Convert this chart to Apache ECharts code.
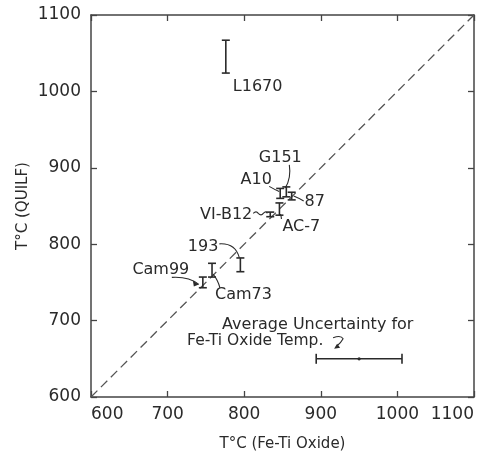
<!DOCTYPE html>
<html>
<head>
<meta charset="utf-8">
<script src="https://cdn.jsdelivr.net/npm/echarts@6/dist/echarts.min.js"></script>
<style>html,body{margin:0;padding:0;background:#fff;}#c{width:491px;height:452px;}</style>
</head>
<body>
<div id="c"></div>
<script>
// ---- data ----
var sampleNames = ['L1670', 'G151', 'A10', '87', 'VI-B12', 'AC-7', '193', 'Cam99', 'Cam73'];
var feTiTemp    = [776, 855, 847, 862, 834, 846, 795, 746, 758];
var quilfLow    = [1024, 862, 860, 858, 836, 838, 764, 743, 757];
var quilfHigh   = [1067, 875, 873, 868, 842, 854, 782, 757, 775];
var avgUncertCenter = [950, 650];
var avgUncertHalfWidth = 56;
var oneToOne = [[600, 600], [1100, 1100]];
var tickValues = [600, 700, 800, 900, 1000, 1100];

// ---- label layout (pixel offsets from each point) ----
var labelLayout = {
  'L1670': {dx: 7,   dy: 30,  align: 'left'},
  'G151':  {dx: -6,  dy: -34, align: 'center', lead: [3, -27, 5, -14, -1, -4]},
  'A10':   {dx: -24, dy: -14, align: 'center', lead: [-11, -7, -6, -4, -1, -2]},
  '87':    {dx: 23,  dy: 6,   align: 'center', lead: [12, 5, 7, 2, 2, 0]},
  'VI-B12':{dx: -18, dy: 0,   align: 'right',  wave: true},
  'AC-7':  {dx: 3,   dy: 18,  align: 'left',   lead: [2, 10, 2, 8, 1, 5]},
  '193':   {dx: -22, dy: -18, align: 'right',  lead: [-21, -21, -5, -22, -1, -7]},
  'Cam99': {dx: -42, dy: -13, align: 'center', lead: [-31, -5, -14, -6, -4, 2], arrow: true},
  'Cam73': {dx: 3,   dy: 25,  align: 'left',   lead: [8, 18, 6, 10, 1, 4]}
};

var FONT = 'DejaVu Sans';
var INK = '#2a2a2a';

var barData = sampleNames.map(function (n, i) {
  return [feTiTemp[i], quilfLow[i], quilfHigh[i], i];
});
var labelData = sampleNames.map(function (n, i) {
  return [feTiTemp[i], (quilfLow[i] + quilfHigh[i]) / 2, i];
});

function renderBar(params, api) {
  var x = api.value(0);
  var lo = api.coord([x, api.value(1)]);
  var hi = api.coord([x, api.value(2)]);
  var w = 4;
  var st = {stroke: INK, lineWidth: 1.6};
  return {type: 'group', children: [
    {type: 'line', shape: {x1: lo[0], y1: lo[1], x2: hi[0], y2: hi[1]}, style: st},
    {type: 'line', shape: {x1: lo[0] - w, y1: lo[1], x2: lo[0] + w, y2: lo[1]}, style: st},
    {type: 'line', shape: {x1: hi[0] - w, y1: hi[1], x2: hi[0] + w, y2: hi[1]}, style: st}
  ]};
}

function renderLabel(params, api) {
  var i = api.value(2);
  var name = sampleNames[i];
  var L = labelLayout[name];
  var p = api.coord([api.value(0), api.value(1)]);
  var kids = [{
    type: 'text', x: p[0] + L.dx, y: p[1] + L.dy,
    style: {text: name, fill: INK, font: '16px "' + FONT + '"', align: L.align, verticalAlign: 'middle'}
  }];
  var st = {stroke: INK, lineWidth: 1.1, fill: null};
  if (L.lead) {
    var a = L.lead;
    kids.push({type: 'bezierCurve', shape: {
      x1: p[0] + a[0], y1: p[1] + a[1], cpx1: p[0] + a[2], cpy1: p[1] + a[3], x2: p[0] + a[4], y2: p[1] + a[5]
    }, style: st});
    if (L.arrow) {
      var ex = p[0] + a[4], ey = p[1] + a[5];
      kids.push({type: 'polygon', shape: {points: [[ex, ey], [ex - 6, ey - 4], [ex - 5, ey + 2]]}, style: {fill: INK}});
    }
  }
  if (L.wave) {
    var x0 = p[0] - 17, y0 = p[1] - 1;
    var d = 'M' + x0 + ' ' + y0 + ' q3 -3 5 0 q3 3 5 0 q3 -3 4 0';
    kids.push({type: 'path', shape: {pathData: d}, style: st});
  }
  return {type: 'group', children: kids};
}

function renderUncert(params, api) {
  var c = api.coord([api.value(0), api.value(1)]);
  var l = api.coord([api.value(0) - avgUncertHalfWidth, api.value(1)]);
  var r = api.coord([api.value(0) + avgUncertHalfWidth, api.value(1)]);
  var st = {stroke: INK, lineWidth: 1.6};
  var tf = '16px "' + FONT + '"';
  var tf2 = '15.5px "' + FONT + '"';
  return {type: 'group', children: [
    {type: 'line', shape: {x1: l[0], y1: l[1], x2: r[0], y2: r[1]}, style: st},
    {type: 'line', shape: {x1: l[0], y1: l[1] - 5, x2: l[0], y2: l[1] + 5}, style: st},
    {type: 'line', shape: {x1: r[0], y1: r[1] - 5, x2: r[0], y2: r[1] + 5}, style: st},
    {type: 'circle', shape: {cx: c[0], cy: c[1], r: 1.6}, style: {fill: INK}},
    {type: 'text', x: c[0] - 137, y: c[1] - 34, style: {text: 'Average Uncertainty for', fill: INK, font: tf, align: 'left', verticalAlign: 'middle'}},
    {type: 'text', x: c[0] - 172, y: c[1] - 18, style: {text: 'Fe-Ti Oxide Temp.', fill: INK, font: tf2, align: 'left', verticalAlign: 'middle'}},
    {type: 'path', shape: {pathData: 'M' + (c[0] - 26) + ' ' + (c[1] - 21) + ' q8 -3 10 1 q-2 4 -7 8'}, style: {stroke: INK, lineWidth: 1.1, fill: null}},
    {type: 'polygon', shape: {points: [[c[0] - 25, c[1] - 10], [c[0] - 22, c[1] - 15], [c[0] - 19, c[1] - 11]]}, style: {fill: INK}}
  ]};
}

var axisLineStyle = {color: '#444', width: 1.5};
function plain(v) { return String(v); }
function baseAxis(extra) {
  var o = {
    type: 'value', min: 600, max: 1100, interval: 100,
    axisLine: {show: true, onZero: false, lineStyle: axisLineStyle},
    axisTick: {show: true, inside: true, length: 6, lineStyle: {color: '#444', width: 1.3}},
    splitLine: {show: false},
    axisLabel: {show: false}
  };
  for (var k in extra) o[k] = extra[k];
  return o;
}

var chart = echarts.init(document.getElementById('c'));
chart.setOption({
  animation: false,
  backgroundColor: '#fff',
  grid: {left: 91, right: 17, top: 15, bottom: 55, containLabel: false, outerBoundsMode: 'none'},
  xAxis: [
    baseAxis({position: 'bottom',
      axisLabel: {show: true, fontSize: 17, color: INK, fontFamily: FONT, margin: 9, formatter: plain,
        alignMinLabel: 'left', alignMaxLabel: 'right'},
      name: 'T°C (Fe-Ti Oxide)', nameLocation: 'middle', nameGap: 40, nameMoveOverlap: false,
      nameTextStyle: {fontSize: 15, color: INK, fontFamily: FONT}}),
    baseAxis({position: 'top'})
  ],
  yAxis: [
    baseAxis({position: 'left',
      axisLabel: {show: true, fontSize: 17, color: INK, fontFamily: FONT, margin: 10, formatter: plain},
      name: 'T°C (QUILF)', nameLocation: 'middle', nameGap: 60, nameMoveOverlap: false,
      nameTextStyle: {fontSize: 15, color: INK, fontFamily: FONT}}),
    baseAxis({position: 'right'})
  ],
  series: [
    {type: 'line', data: oneToOne, symbol: 'none', silent: true,
      lineStyle: {color: '#555', width: 1.3, type: [9, 5]}, z: 1},
    {type: 'custom', renderItem: renderBar, data: barData, z: 3},
    {type: 'custom', renderItem: renderLabel, data: labelData, z: 4},
    {type: 'custom', renderItem: renderUncert, data: [avgUncertCenter], z: 4}
  ]
});
</script>
</body>
</html>
